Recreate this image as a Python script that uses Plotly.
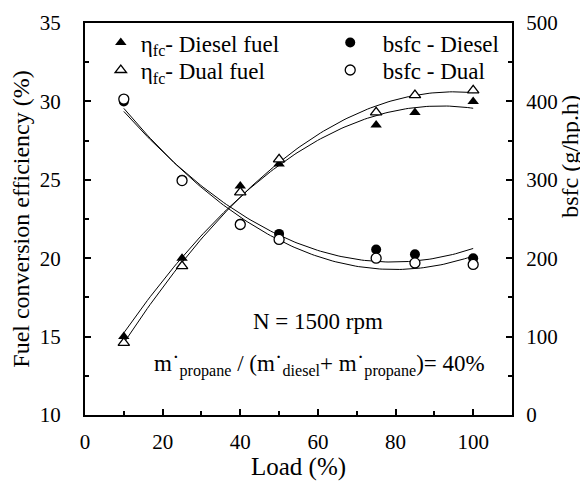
import numpy as np
import plotly.graph_objects as go

load = [10, 25, 40, 50, 75, 85, 100]

# fuel conversion efficiency (%)
eta_diesel = [15.0, 20.0, 24.6, 26.0, 28.5, 29.3, 30.0]
eta_dual = [14.6, 19.5, 24.2, 26.3, 29.3, 30.4, 30.7]

# bsfc (g/hp.h)
bsfc_diesel = [400, 300, 244, 231, 211, 205, 200]
bsfc_dual = [403, 299, 243, 224, 200, 194, 192]

FONT = "Liberation Serif, Times New Roman, serif"

# quadratic trendlines, like the original figure
xs = np.linspace(min(load), max(load), 120)


def trend(y):
    c = np.polyfit(load, y, 2)
    return np.polyval(c, xs)


fig = go.Figure()

# trend curves
for y, ax in [(eta_diesel, "y"), (eta_dual, "y"), (bsfc_diesel, "y2"), (bsfc_dual, "y2")]:
    fig.add_trace(go.Scatter(x=xs, y=trend(y), mode="lines", yaxis=ax,
                             line=dict(color="black", width=1), showlegend=False,
                             hoverinfo="skip"))

# one legend per entry so the rows sit where the original has them
fig.add_trace(go.Scatter(x=load, y=eta_diesel, mode="markers", name="η<sub>fc</sub>- Diesel fuel",
                         marker=dict(symbol="triangle-up", size=10, color="black"),
                         legend="legend"))
fig.add_trace(go.Scatter(x=load, y=eta_dual, mode="markers", name="η<sub>fc</sub>- Dual fuel",
                         marker=dict(symbol="triangle-up", size=10, color="white",
                                     line=dict(color="black", width=1.3)),
                         legend="legend2"))
fig.add_trace(go.Scatter(x=load, y=bsfc_diesel, mode="markers", name="bsfc - Diesel", yaxis="y2",
                         marker=dict(symbol="circle", size=10, color="black"),
                         legend="legend3"))
fig.add_trace(go.Scatter(x=load, y=bsfc_dual, mode="markers", name="bsfc - Dual", yaxis="y2",
                         marker=dict(symbol="circle", size=10, color="white",
                                     line=dict(color="black", width=1.3)),
                         legend="legend4"))

axis_common = dict(showgrid=False, zeroline=False, showline=True, linecolor="black", linewidth=2,
                   ticks="inside", ticklen=6, tickwidth=1.5, tickcolor="black", automargin=False,
                   tickfont=dict(family=FONT, size=21, color="black"))

leg = dict(xanchor="left", yanchor="middle", bgcolor="rgba(0,0,0,0)",
           font=dict(family=FONT, size=23))

# page body has an 8px margin, so the figure is a bit smaller than the window
fig.update_layout(
    width=580, height=473,
    margin=dict(l=77, r=76, t=15, b=66),
    paper_bgcolor="white", plot_bgcolor="white",
    font=dict(family=FONT, size=21, color="black"),
    xaxis=dict(range=[0, 110], dtick=20, mirror=True, ticklabelstandoff=7,
               minor=dict(dtick=10, ticks="inside", ticklen=4, tickcolor="black"),
               title=dict(text="Load (%)", font=dict(family=FONT, size=25), standoff=0),
               **axis_common),
    yaxis=dict(range=[10, 35], dtick=5, ticklabelstandoff=18,
               minor=dict(dtick=2.5, ticks="inside", ticklen=4, tickcolor="black"),
               title=dict(text="Fuel conversion efficiency (%)", font=dict(family=FONT, size=24),
                          standoff=6),
               **axis_common),
    yaxis2=dict(range=[0, 500], dtick=100, overlaying="y", side="right", ticklabelstandoff=8,
                minor=dict(dtick=50, ticks="inside", ticklen=4, tickcolor="black"),
                **axis_common),
    legend=dict(x=0.037, y=0.95, **leg),
    legend2=dict(x=0.037, y=0.88, **leg),
    legend3=dict(x=0.545, y=0.95, itemwidth=55, **leg),
    legend4=dict(x=0.545, y=0.88, itemwidth=55, **leg),
    showlegend=True,
)

fig.add_annotation(text="N = 1500 rpm", xref="paper", yref="paper", x=0.545, y=0.202,
                   showarrow=False, font=dict(family=FONT, size=23))
fig.add_annotation(text="m˙<sub>propane</sub> / (m˙<sub>diesel</sub>+ m˙<sub>propane</sub>)= 40%",
                   xref="paper", yref="paper", x=0.55, y=0.083,
                   showarrow=False, font=dict(family=FONT, size=23))
fig.add_annotation(text="bsfc (g/hp.h)", xref="paper", yref="paper", x=1.172, y=0.66,
                   textangle=-90, showarrow=False, font=dict(family=FONT, size=24))

fig.write_html("out.html")
